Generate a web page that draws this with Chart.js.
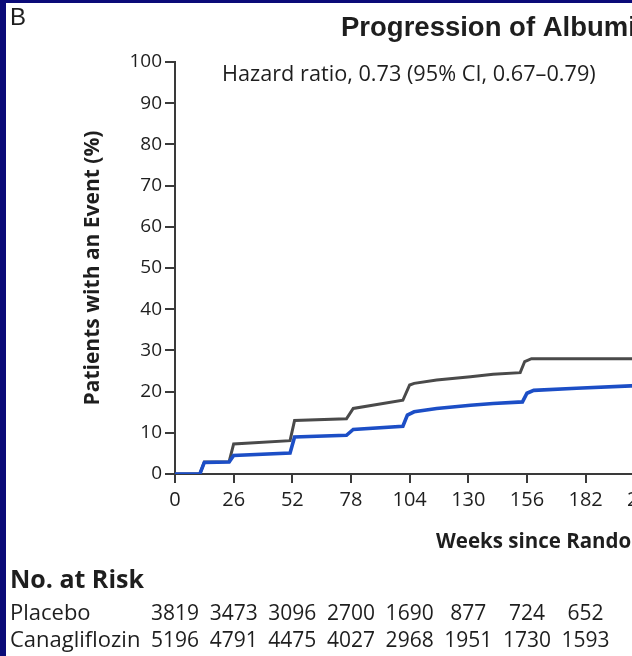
<!DOCTYPE html>
<html>
<head>
<meta charset="utf-8">
<script src="https://cdn.jsdelivr.net/npm/chart.js@4.4.1/dist/chart.umd.min.js"></script>
<style>
  html, body { margin: 0; padding: 0; background: #fff; overflow: hidden; width: 632px; height: 656px; }
  #wrap { position: absolute; left: 0; top: 0; width: 1020px; height: 656px; }
  .edge { position: absolute; background: #0b0b78; }
  #edgeL { left: 0; top: 0; width: 6px; height: 656px; }
  #edgeT { left: 0; top: 0; width: 632px; height: 3px; }
</style>
</head>
<body>
<div id="wrap"><canvas id="km" width="1020" height="656"></canvas></div>
<div class="edge" id="edgeL"></div>
<div class="edge" id="edgeT"></div>
<script>
// Cumulative incidence of albuminuria progression (Kaplan-Meier estimates)
const placeboWeeks = [0, 11, 13, 24, 26, 51, 53, 76, 79, 101, 104, 106, 116, 131, 141, 153, 155, 158, 178, 208];
const placeboPct   = [0, 0, 2.9, 3.0, 7.3, 8.1, 13.0, 13.4, 15.9, 17.9, 21.6, 22.0, 22.8, 23.6, 24.2, 24.6, 27.3, 28.0, 28.0, 28.0];

const canaWeeks = [0, 11, 13, 24, 26, 51, 53, 76, 79, 101, 103, 106, 116, 131, 141, 154, 156, 159, 178, 202, 208];
const canaPct   = [0, 0, 2.8, 2.9, 4.5, 5.1, 9.0, 9.4, 10.8, 11.6, 14.3, 15.1, 15.9, 16.7, 17.1, 17.5, 19.6, 20.3, 20.8, 21.4, 21.5];

const weekTicks = [0, 26, 52, 78, 104, 130, 156, 182, 208, 234, 260, 286, 312, 338, 364];
const pctTicks  = [0, 10, 20, 30, 40, 50, 60, 70, 80, 90, 100];

// Number at risk, at each tick
const riskWeeks   = [0, 26, 52, 78, 104, 130, 156, 182];
const riskPlacebo = [3819, 3473, 3096, 2700, 1690, 877, 724, 652];
const riskCana    = [5196, 4791, 4475, 4027, 2968, 1951, 1730, 1593];

const panelLetter = 'B';
const chartTitle = 'Progression of Albuminuria';
const hazardText = 'Hazard ratio, 0.73 (95% CI, 0.67\u20130.79)';
const xTitle = 'Weeks since Randomization';
const yTitle = 'Patients with an Event (%)';
const riskHeader = 'No. at Risk';
const groupNames = ['Placebo', 'Canagliflozin'];

const SANS = '"Open Sans"';
const INK = '#1e1e1e';
const AXIS = '#3a3a3a';

const toPoints = (xs, ys) => xs.map((w, i) => ({ x: w, y: ys[i] }));

const panelText = {
  id: 'panelText',
  afterDraw(chart) {
    const { ctx, scales: { x } } = chart;
    ctx.save();
    ctx.fillStyle = INK;
    ctx.textBaseline = 'alphabetic';
    ctx.textAlign = 'left';
    ctx.font = '24px "Liberation Sans"';
    ctx.fillText(panelLetter, 10, 25);
    ctx.font = 'bold 27.5px "Liberation Sans"';
    ctx.fillText(chartTitle, 341, 36);
    ctx.font = '21.7px ' + SANS;
    ctx.fillText(hazardText, 222, 81);

    // x-axis caption
    ctx.font = 'bold 20.5px ' + SANS;
    ctx.fillText(xTitle, 436, 548);

    // number-at-risk table
    ctx.font = 'bold 25px ' + SANS;
    ctx.fillText(riskHeader, 10, 588);
    ctx.font = '22px ' + SANS;
    ctx.fillText(groupNames[0], 10, 620);
    ctx.fillText(groupNames[1], 10, 647);
    ctx.font = '21px ' + SANS;
    ctx.textAlign = 'center';
    riskWeeks.forEach((w, i) => {
      const px = x.getPixelForValue(w);
      ctx.fillText(String(riskPlacebo[i]), px, 620);
      ctx.fillText(String(riskCana[i]), px, 647);
    });
    ctx.restore();
  }
};

function draw() {
  new Chart(document.getElementById('km'), {
    type: 'line',
    data: {
      datasets: [
        {
          label: groupNames[1],
          data: toPoints(canaWeeks, canaPct),
          borderColor: '#1c4ec6',
          borderWidth: 3.6,
          pointRadius: 0,
          tension: 0,
          order: 0
        },
        {
          label: groupNames[0],
          data: toPoints(placeboWeeks, placeboPct),
          borderColor: '#4a4a4a',
          borderWidth: 3,
          pointRadius: 0,
          tension: 0,
          order: 1
        }
      ]
    },
    options: {
      responsive: false,
      animation: false,
      devicePixelRatio: 1,
      layout: { padding: { left: 0, top: 62, right: 17, bottom: 96 } },
      plugins: { legend: { display: false }, tooltip: { enabled: false }, title: { display: false } },
      scales: {
        x: {
          type: 'linear',
          min: 0,
          max: 367,
          afterBuildTicks: s => { s.ticks = weekTicks.map(v => ({ value: v })); },
          afterFit: s => { s.height = 86; },
          grid: { drawOnChartArea: false, drawTicks: true, tickLength: 9, color: AXIS, lineWidth: 2 },
          border: { display: true, color: AXIS, width: 2 },
          ticks: { color: INK, font: { family: SANS, size: 20 }, padding: 5, maxRotation: 0, autoSkip: false },
          title: { display: false }
        },
        y: {
          min: 0,
          max: 100,
          afterBuildTicks: s => { s.ticks = pctTicks.map(v => ({ value: v })); },
          afterFit: s => { s.width = 175; },
          grid: { drawOnChartArea: false, drawTicks: true, tickLength: 10, color: AXIS, lineWidth: 2 },
          border: { display: true, color: AXIS, width: 2 },
          ticks: { color: INK, font: { family: SANS, size: 19 }, padding: 3 },
          title: {
            display: true, text: yTitle, color: INK,
            font: { family: SANS, size: 21, weight: 'bold' },
            padding: { top: 80, bottom: 0 }
          }
        }
      }
    },
    plugins: [panelText]
  });
}

const faces = ['21px "Open Sans"', 'bold 21px "Open Sans"', '24px "Liberation Sans"', 'bold 24px "Liberation Sans"'];
Promise.all(faces.map(f => document.fonts.load(f))).then(draw, draw);
</script>
</body>
</html>
